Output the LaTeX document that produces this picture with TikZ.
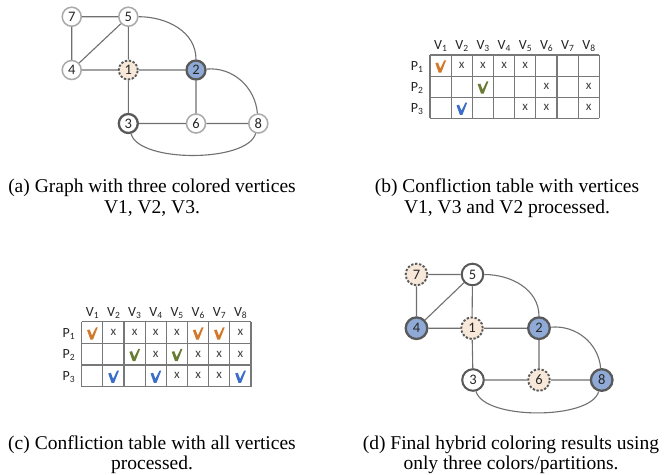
\documentclass[tikz,border=0pt]{standalone}
\usepackage{fontspec}
\setmainfont{Liberation Serif}
\newfontfamily\lblfont{Carlito}
\usetikzlibrary{shadows}

\definecolor{edgegray}{RGB}{112,112,112}
\definecolor{ringlight}{RGB}{170,170,170}
\definecolor{ringdark}{RGB}{89,89,89}
\definecolor{nodeblue}{RGB}{143,170,214}
\definecolor{nodepeach}{RGB}{248,232,217}
\definecolor{chkorange}{RGB}{210,120,40}
\definecolor{chkgreen}{RGB}{106,124,52}
\definecolor{chkblue}{RGB}{58,110,200}
\definecolor{gridgray}{RGB}{120,120,120}

% small lowered index for V_i and P_j labels
\newcommand\lowidx[1]{\raisebox{-2.2pt}{\fontsize{9.5}{9.5}\selectfont #1}}

\tikzset{
  vtx/.style={circle, inner sep=0pt, minimum size=#1,
    font=\lblfont\fontsize{14.5}{14.5}\selectfont, text=black!85,
    drop shadow={shadow xshift=0.5pt, shadow yshift=-0.6pt, opacity=0.2}},
  vtx/.default=19pt,
  plainv/.style={fill=white, draw=ringlight, line width=1.5pt},
  darkv/.style={fill=white, draw=ringdark, line width=2.3pt},
  bluev/.style={fill=nodeblue, draw=ringdark, line width=2.3pt},
  dashv/.style={fill=nodepeach, draw=ringdark, line width=1.9pt, dash pattern=on 2.3pt off 1.7pt},
  edge/.style={draw=edgegray, line width=1.1pt},
  gridline/.style={draw=gridgray, line width=1.2pt},
  hdr/.style={font=\lblfont\fontsize{14}{14}\selectfont, text=black!85, inner sep=0pt, anchor=base},
  xm/.style={font=\lblfont\fontsize{13}{13}\selectfont, text=black!75, inner sep=0pt},
  captext/.style={font=\fontsize{19.5}{20.5}\selectfont, inner sep=0pt, anchor=base},
  pics/chkmark/.style={code={
    \fill[fill=#1, x=1pt, y=1pt] (-5.2,2.4) -- (-2.6,3.0) -- (-0.3,-3.0) -- (3.7,5.2)
      -- (5.5,5.2) -- (0.7,-7.0) -- (-1.9,-7.0) -- cycle;}},
}

% conflict table: prefix, left x, top y, cell width, row height, checks, crosses
\newcommand\conftable[7]{%
  \begin{scope}[shift={(#2,-#3)}, x=#4pt, y=-#5pt]
    \foreach \i in {0,...,8} \draw[gridline] (\i,0) -- (\i,3);
    \foreach \j in {0,...,3} \draw[gridline] (0,\j) -- (8,\j);
    \foreach \i in {1,...,8}
      \node[hdr] (#1v\i) at (\i-0.5,0) [yshift=5.5pt] {V\lowidx{\i}};
    \foreach \j in {1,2,3}
      \node[hdr] (#1p\j) at (0,\j-0.5) [xshift=-13pt, yshift=-4.5pt] {P\lowidx{\j}};
    \foreach \c/\r/\col in {#6}
      \pic at (\c-0.5,\r-0.5) {chkmark=\col};
    \foreach \c/\r in {#7}
      \node[xm] (#1x\c\r) at (\c-0.5,\r-0.5) {x};
  \end{scope}}

\begin{document}
\begin{tikzpicture}[x=1pt, y=1pt]
  \fill[white] (0,-474) rectangle (664,0);
  \useasboundingbox (0,-474) rectangle (664,0);

  % graph with three colored vertices
  \node[vtx, plainv] (a7) at (71.7,-16.7) {7};
  \node[vtx, plainv] (a5) at (128.3,-16.7) {5};
  \node[vtx, plainv] (a4) at (71.7,-70) {4};
  \node[vtx, dashv]  (a1) at (128.3,-70) {1};
  \node[vtx, bluev]  (a2) at (196,-70) {2};
  \node[vtx, darkv]  (a3) at (128.3,-123.5) {3};
  \node[vtx, plainv] (a6) at (196,-123.5) {6};
  \node[vtx, plainv] (a8) at (258.3,-123.5) {8};
  \draw[edge] (a7) -- (a5) (a7) -- (a4) (a4) -- (a5) (a5) -- (a1) (a4) -- (a1)
              (a1) -- (a2) (a1) -- (a3) (a2) -- (a6) (a3) -- (a6) (a6) -- (a8);
  \draw[edge] (a5) to[out=0, in=90] (a2);
  \draw[edge] (a2) to[out=5, in=95] (a8);
  \draw[edge] (a3) to[out=-75, in=-105, looseness=0.62] (a8);

  % final hybrid coloring
  \node[vtx=21.6pt, dashv] (d7) at (416.5,-274.5) {7};
  \node[vtx=21.6pt, darkv, line width=2pt] (d5) at (472.5,-274.5) {5};
  \node[vtx=21.6pt, bluev] (d4) at (416.5,-328.2) {4};
  \node[vtx=21.6pt, dashv] (d1) at (472,-328.2) {1};
  \node[vtx=21.6pt, bluev] (d2) at (539,-328.2) {2};
  \node[vtx=21.6pt, darkv, line width=2pt] (d3) at (473,-380) {3};
  \node[vtx=21.6pt, dashv] (d6) at (539,-380) {6};
  \node[vtx=21.6pt, bluev] (d8) at (601.7,-380) {8};
  \draw[edge] (d7) -- (d5) (d7) -- (d4) (d4) -- (d5) (d5) -- (d1) (d4) -- (d1)
              (d1) -- (d2) (d1) -- (d3) (d2) -- (d6) (d3) -- (d6) (d6) -- (d8);
  \draw[edge] (d5) to[out=0, in=90] (d2);
  \draw[edge] (d2) to[out=5, in=95] (d8);
  \draw[edge] (d3) to[out=-75, in=-105, looseness=0.62] (d8);

  % conflict tables
  \conftable{b}{430}{55}{21.16}{21.1}
    {1/1/chkorange, 3/2/chkgreen, 2/3/chkblue}
    {2/1, 3/1, 4/1, 5/1, 6/2, 8/2, 5/3, 6/3, 8/3}
  \conftable{c}{81.7}{321.7}{21.16}{21.65}
    {1/1/chkorange, 6/1/chkorange, 7/1/chkorange, 3/2/chkgreen, 5/2/chkgreen,
     2/3/chkblue, 4/3/chkblue, 8/3/chkblue}
    {2/1, 3/1, 4/1, 5/1, 8/1, 4/2, 6/2, 7/2, 8/2, 5/3, 6/3, 7/3}

  % captions
  \node[captext] (capa1) at (152,-192.7) {(a) Graph with three colored vertices};
  \node[captext] (capa2) at (152,-213.7) {V1, V2, V3.};
  \node[captext] (capb1) at (507,-192.7) {(b) Confliction table with vertices};
  \node[captext] (capb2) at (507,-213.7) {V1, V3 and V2 processed.};
  \node[captext] (capc1) at (152,-449.3) {(c) Confliction table with all vertices};
  \node[captext] (capc2) at (152,-469.3) {processed.};
  \node[captext] (capd1) at (511,-449.3) {(d) Final hybrid coloring results using};
  \node[captext] (capd2) at (511,-469.3) {only three colors/partitions.};
\end{tikzpicture}
\end{document}
